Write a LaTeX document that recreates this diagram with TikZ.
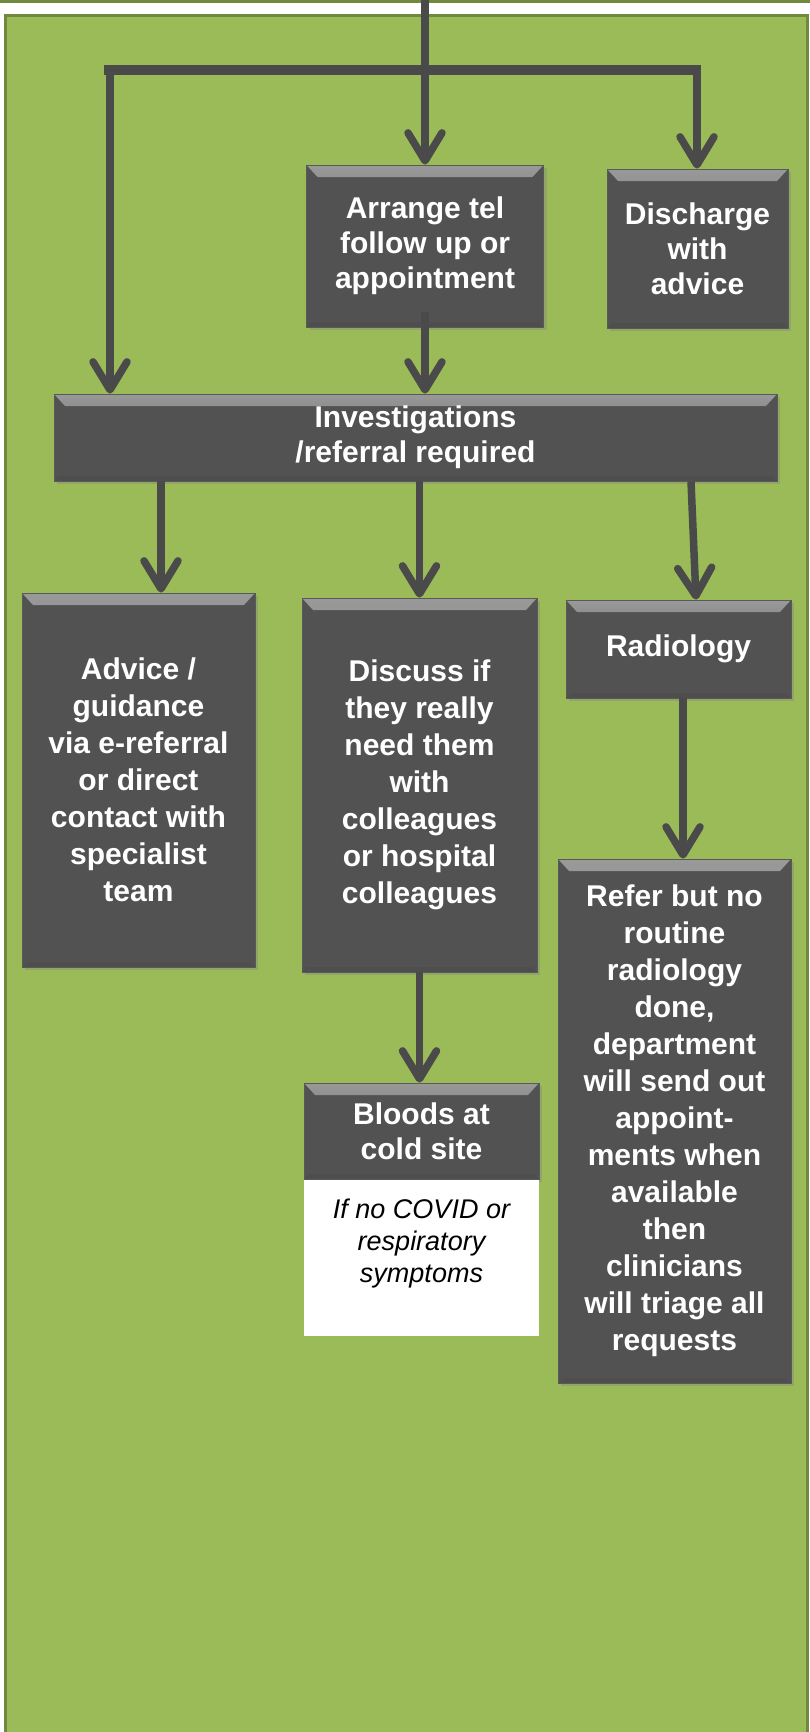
\documentclass[tikz,border=0pt]{standalone}
\usepackage{fontspec}
\setmainfont{Liberation Sans}
\usetikzlibrary{arrows.meta,shadows}

\definecolor{panelgreen}{RGB}{155,187,89}
\definecolor{paneledge}{RGB}{113,137,63}
\definecolor{boxgray}{RGB}{82,82,82}
\definecolor{linegray}{RGB}{74,74,74}

\begin{document}
\begin{tikzpicture}[x=1pt,y=-1pt,
  box/.style={draw=black!65, line width=0.8pt, fill=boxgray, text=white, align=center,
    font=\fontsize{30}{35}\selectfont\bfseries,
    drop shadow={shadow xshift=3pt,shadow yshift=-3pt,opacity=0.35},
    path picture={
      \fill[top color=gray!80!white, bottom color=boxgray]
        (path picture bounding box.north west) -- (path picture bounding box.north east)
        -- ([xshift=-11pt,yshift=-12pt]path picture bounding box.north east)
        -- ([xshift=11pt,yshift=-12pt]path picture bounding box.north west) -- cycle;
      \fill[black!70,opacity=0.5]
        (path picture bounding box.south west) -- (path picture bounding box.south east)
        -- ([xshift=-5pt,yshift=5pt]path picture bounding box.south east)
        -- ([xshift=5pt,yshift=5pt]path picture bounding box.south west) -- cycle;}},
  conn/.style={draw=linegray, line width=7.5pt, -{Straight Barb[length=28pt,width=34pt,round]}},
  note/.style={fill=white, text=black, inner sep=0pt, font=\fontsize{27}{32}\selectfont\itshape}]

\useasboundingbox[fill=white] (0,0) rectangle (810,1732);
\fill[paneledge] (0,0) rectangle (810,2.5);
\draw[fill=panelgreen, draw=paneledge, line width=3pt] (5,15) rectangle (807,1745);

% boxes
\node[box, minimum width=237pt, minimum height=162pt] (arrange) at (425,246) {Arrange tel\\follow up or\\appointment};
\node[box, minimum width=181pt, minimum height=159pt] (discharge) at (697.5,248.5) {Discharge\\with\\advice};
\node[box, minimum width=723pt, minimum height=87pt] (invest) at (415.5,437.5) {Investigations\\/referral required};
\node[box, minimum width=233pt, minimum height=374pt, font=\fontsize{30}{37}\selectfont\bfseries] (advice) at (138.5,780) {Advice /\\guidance\\via e-referral\\or direct\\contact with\\specialist\\team};
\node[box, minimum width=235pt, minimum height=374pt, font=\fontsize{30}{37}\selectfont\bfseries] (discuss) at (419.5,785) {Discuss if\\they really\\need them\\with\\colleagues\\or hospital\\colleagues};
\node[box, minimum width=225pt, minimum height=98pt] (radiology) at (678.5,649) {Radiology};
\node[box, minimum width=233pt, minimum height=524pt, font=\fontsize{30}{37}\selectfont\bfseries] (refer) at (674.5,1121) {Refer but no\\routine\\radiology\\done,\\department\\will send out\\appoint-\\ments when\\available\\then\\clinicians\\will triage all\\requests};
\node[box, minimum width=235pt, minimum height=96pt] (bloods) at (421.5,1131) {Bloods at\\cold site};
\node[note, minimum width=235pt, minimum height=156pt, anchor=north] (note) at (bloods.south)
  {\parbox[c][118pt][t]{225pt}{\centering If no COVID or\\respiratory\\symptoms}};

% connectors
\coordinate (trunk) at (425,0);
\coordinate (splitL) at (110,70);
\coordinate (splitR) at (697,70);
\draw[linegray, line width=10pt] (104,70) -- (701,70);
\draw[conn] (trunk) -- (arrange.north);
\draw[conn] (splitL) -- (splitL |- invest.north);
\draw[conn] (splitR) -- (splitR |- discharge.north);
\draw[conn] ([yshift=15pt]arrange.south) -- (arrange.south |- invest.north);

\coordinate (a1) at (161,0);
\coordinate (r1) at (691,0);
\coordinate (r2) at (696,0);
\coordinate (r3) at (683,0);
\draw[conn] (invest.south -| a1) -- (advice.north -| a1);
\draw[conn] (invest.south -| discuss.north) -- (discuss.north);
\draw[conn] (invest.south -| r1) -- (radiology.north -| r2);
\draw[conn] (radiology.south -| r3) -- (refer.north -| r3);
\draw[conn] (discuss.south) -- (discuss.south |- bloods.north);
\end{tikzpicture}
\end{document}
